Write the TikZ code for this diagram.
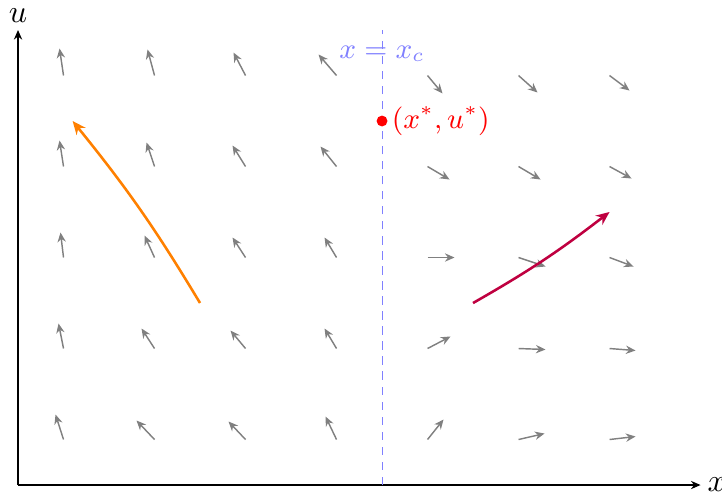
\documentclass[tikz,border=0pt]{standalone}
\usetikzlibrary{arrows.meta}
\definecolor{critblue}{RGB}{128,128,255}
\tikzset{
  axisline/.style={black, line width=0.4pt, -{Stealth[length=3pt,width=2.6pt]}},
  quiv/.style={gray, line width=0.45pt, -{Stealth[length=3pt,width=2.6pt]}},
  traj/.style={line width=0.8pt, -{Stealth[length=4.2pt,width=3.6pt]}},
  critline/.style={critblue, dash pattern=on 2.6pt off 2.1pt, line width=0.3pt},
}
\begin{document}
\begin{tikzpicture}
\useasboundingbox (-0.198,-0.11) rectangle (7.736,5.33);
% axes
\coordinate (O) at (0,0);
\coordinate (xend) at (7.5,0);
\coordinate (uend) at (0,5);
\draw[axisline] (O) -- (xend);
\draw[axisline] (O) -- (uend);
\node[right, inner sep=2pt] (xlab) at (xend) {$x$};
\node[above, inner sep=2pt] (ulab) at (uend) {$u$};
% critical line
\coordinate (cbot) at (4,0);
\coordinate (ctop) at (4,5);
\draw[critline] (cbot) -- (ctop);
\node[critblue, font=\small] (clab) at (4,4.74) {$x = x_c$};
% quiver field: x/u/dx/du (pixel units, 91 px per unit)
\foreach \x/\u/\dx/\du in {
  0.5/4.5/-4/27, 1.5/4.5/-7/26, 2.5/4.5/-12/23, 3.5/4.5/-18/21, 4.5/4.5/15/-18, 5.5/4.5/19/-17, 6.5/4.5/20/-15,
  0.5/3.5/-4/26, 1.5/3.5/-8/24, 2.5/3.5/-13/21, 3.5/3.5/-16/20, 4.5/3.5/22/-13, 5.5/3.5/22/-13, 6.5/3.5/22/-12,
  0.5/2.5/-3/25, 1.5/2.5/-10/22, 2.5/2.5/-13/20, 3.5/2.5/-12/20, 4.5/2.5/27/0, 5.5/2.5/27/-9, 6.5/2.5/24/-9,
  0.5/1.5/-5/25, 1.5/1.5/-13/20, 2.5/1.5/-15/18, 3.5/1.5/-12/20, 4.5/1.5/23/12, 5.5/1.5/27/-1, 6.5/1.5/26/-2,
  0.5/0.5/-8/25, 1.5/0.5/-18/19, 2.5/0.5/-17/18, 3.5/0.5/-11/23, 4.5/0.5/16/20, 5.5/0.5/26/6, 6.5/0.5/26/3}
  \draw[quiv] (\x,\u) -- ++({\dx/91},{\du/91});
% trajectories
\coordinate (oa) at (2,2);
\coordinate (ob) at (0.6,4);
\draw[traj, orange] (oa) to[bend right=4] (ob);
\coordinate (pa) at (5,2);
\coordinate (pb) at (6.5,3);
\draw[traj, purple] (pa) to[bend right=4] (pb);
% equilibrium
\node[circle, fill=red, inner sep=0pt, minimum size=3.4pt] (eq) at (4,4) {};
\node[red, right, inner sep=1pt, font=\small] (eqlab) at (eq.east) {$(x^{*}, u^{*})$};
\end{tikzpicture}
\end{document}
